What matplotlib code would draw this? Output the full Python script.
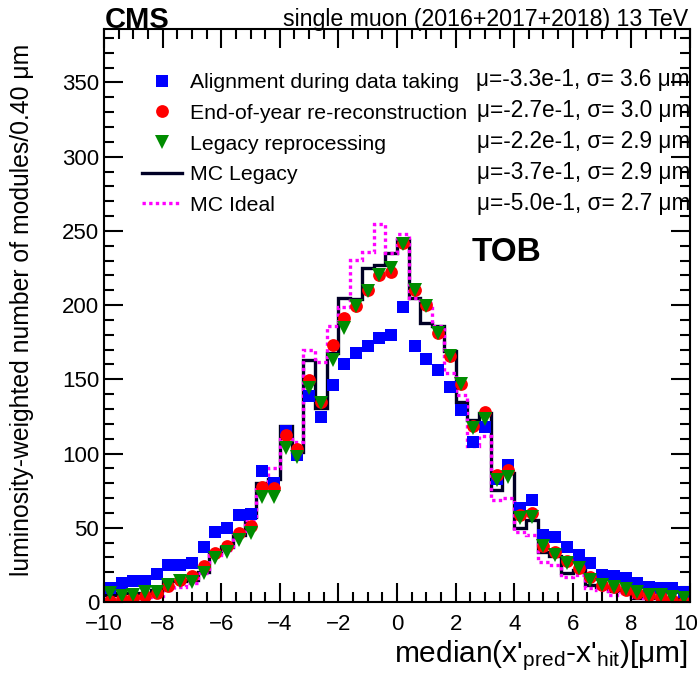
import numpy as np
import matplotlib
matplotlib.use("Agg")
import matplotlib.pyplot as plt
from matplotlib.lines import Line2D
from matplotlib.ticker import MultipleLocator
from matplotlib.transforms import ScaledTranslation

plt.rcParams['font.family'] = ['Liberation Sans', 'DejaVu Sans']
plt.rcParams['mathtext.fontset'] = 'custom'
plt.rcParams['mathtext.rm'] = 'Liberation Sans'
plt.rcParams['mathtext.it'] = 'Liberation Sans:italic'

# 50 bins of 0.4 um from -10 to 10
edges = np.linspace(-10, 10, 51)
centers = 0.5 * (edges[:-1] + edges[1:])

align_data_taking = [9.5, 13, 14, 14, 19, 25, 25, 26, 37, 47,
                     50, 58.7, 59.4, 88, 80, 115, 99, 138.5, 124.6, 146,
                     160.6, 167.8, 172.7, 177.8, 179.7, 198.8, 172.7, 163.8, 156.5, 144.6,
                     129.6, 108, 118, 83, 92.4, 63, 68.8, 45.2, 43.6, 36.9,
                     31.7, 26, 18.2, 17.5, 16, 13, 9.9, 9.2, 9.2, 6.5]
end_of_year = [0.5, 2, 3, 4, 6, 10.5, 15, 17.5, 24, 33,
               37.5, 46.4, 51, 77.5, 76.7, 112.7, 103, 149.8, 135, 173.4,
               191, 199.7, 210.5, 220.6, 222.2, 242, 210.5, 200.4, 181.3, 165.5,
               147, 118.3, 127.7, 85.7, 88.6, 58.7, 59.8, 37.8, 33.5, 27.7,
               22.7, 17, 11.5, 10.3, 8, 5.8, 4.7, 3.6, 1.3, 0.2]
legacy = [5.8, 4, 5, 7, 7, 11.5, 14, 13.5, 19.5, 29.7,
          34, 41.8, 46.4, 71, 70.5, 103.6, 98, 144, 134, 163.3,
          184.7, 199.7, 209.8, 220.6, 225, 240.9, 210, 199.3, 181.3, 165.5,
          147, 117, 123, 82.3, 84.5, 56.5, 57.6, 37.5, 31.7, 26,
          22.7, 14.8, 11.5, 10.3, 8.5, 6.5, 4.7, 4.7, 3.6, 3]
mc_legacy = [4.7, 5.8, 6.4, 5.8, 8, 14, 14, 15, 20.5, 32.8,
             37.3, 45, 57.6, 80.5, 82.6, 118.3, 101, 163, 130.7, 167.8,
             205, 204, 225, 226.7, 235.3, 243.8, 205, 188, 185.8, 168.9,
             135, 122.8, 127.3, 75.6, 86.8, 50, 55.3, 34, 31, 19.4,
             21.6, 11.8, 10.3, 7.3, 8, 2.5, 2.5, 3, 2.5, 2]
mc_ideal = [1.8, 1.8, 2.5, 3.1, 4, 8, 10.3, 13, 19.4, 31.7,
            35, 48, 55, 79, 90, 109.5, 108, 170, 162, 186,
            199, 230.7, 235.5, 254.4, 235.3, 248, 205, 201.5, 185.8, 154,
            139.7, 104.8, 111.5, 68.8, 69.8, 47.4, 45, 27.2, 25, 17,
            18.2, 9.2, 8, 4.7, 5.8, 3.6, 2.9, 3, 2, 1.3]

labels = ["Alignment during data taking", "End-of-year re-reconstruction",
          "Legacy reprocessing", "MC Legacy", "MC Ideal"]
stats = ["\u03bc=-3.3e-1, \u03c3= 3.6 \u03bcm", "\u03bc=-2.7e-1, \u03c3= 3.0 \u03bcm",
         "\u03bc=-2.2e-1, \u03c3= 2.9 \u03bcm", "\u03bc=-3.7e-1, \u03c3= 2.9 \u03bcm",
         "\u03bc=-5.0e-1, \u03c3= 2.7 \u03bcm"]

navy = "#000025"
green = "#008c00"

fig = plt.figure(figsize=(7.0, 6.87), dpi=100)
ax = fig.add_axes([0.1486, 0.1237, 0.8371, 0.8341])

ax.plot(centers, align_data_taking, ls='None', marker='s', ms=9, color='blue', mew=0)
ax.plot(centers, end_of_year, ls='None', marker='o', ms=9.2, color='red', mew=0)
ax.plot(centers, legacy, ls='None', marker='v', ms=9.8, color=green, mew=0)
ax.stairs(mc_legacy, edges, baseline=None, color=navy, lw=2.4)
ax.stairs(mc_ideal, edges, baseline=None, color='magenta', lw=2.4, ls=(0, (1.0, 1.0)))

ax.set_xlim(-10, 10)
ax.set_ylim(0, 386)
ax.xaxis.set_major_locator(MultipleLocator(2))
ax.xaxis.set_minor_locator(MultipleLocator(0.5))
ax.yaxis.set_major_locator(MultipleLocator(50))
ax.yaxis.set_minor_locator(MultipleLocator(10))
ax.tick_params(which='both', direction='in', top=True, right=True, width=1.5, labelsize=16)
ax.tick_params(which='major', length=14)
ax.tick_params(which='minor', length=7)
ax.tick_params(axis='x', pad=8.5)
for s in ax.spines.values():
    s.set_linewidth(1.5)

fig.text(0.983, 1 - 656 / 687, "median(x'$_{\\mathrm{pred}}$-x'$_{\\mathrm{hit}}$)[\u03bcm]",
         fontsize=21.5, ha='right', va='center')
fig.text(0.031, 1 - 44 / 687, "luminosity-weighted number of modules/0.40 \u03bcm",
         fontsize=17.8, rotation=90, ha='center', va='top')

handles = [
    Line2D([], [], ls='None', marker='s', ms=9, color='blue', mew=0),
    Line2D([], [], ls='None', marker='o', ms=9.2, color='red', mew=0),
    Line2D([], [], ls='None', marker='v', ms=9.8, color=green, mew=0),
    Line2D([], [], color=navy, lw=2.4),
    Line2D([], [], color='magenta', lw=2.4, ls=(0, (1.0, 1.0))),
]
ax.legend(handles, labels, loc='upper left', bbox_to_anchor=(0.0286, 0.96), frameon=False,
          fontsize=15.3, handlelength=1.9, handletextpad=0.38, labelspacing=0.55,
          borderaxespad=0.6, borderpad=0.4)

for i, s in enumerate(stats):
    ax.text(1.0, 0.911 - i * 0.0541, s, transform=ax.transAxes, ha='right', va='center', fontsize=16.3)

ax.text(0.628, 0.61, "TOB", transform=ax.transAxes, fontsize=24, fontweight='bold', ha='left', va='center')
fig.text(0.149, 0.971, "CMS", fontsize=21, fontweight='bold', ha='left', va='center')
fig.text(0.983, 0.971, "single muon (2016+2017+2018) 13 TeV", fontsize=16.7, ha='right', va='center')

# nudge the "10" tick label so it stays inside the canvas
fig.canvas.draw()
for t in ax.xaxis.get_major_ticks():
    if abs(t.get_loc() - 10) < 1e-6:
        t.label1.set_transform(t.label1.get_transform()
                               + ScaledTranslation(-3 / 72, 0, fig.dpi_scale_trans))

fig.savefig("out.png", dpi=100)
